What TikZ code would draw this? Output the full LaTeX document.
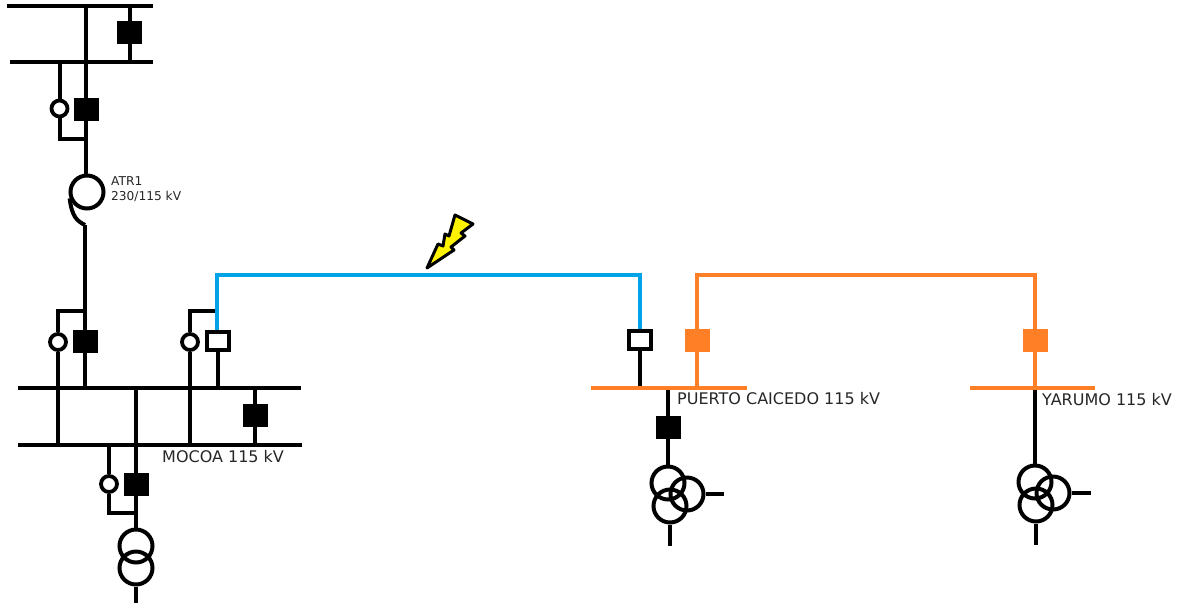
\documentclass[tikz,border=0pt]{standalone}
\usepackage{fontspec}
\setmainfont{DejaVu Sans}
\definecolor{linea}{HTML}{00A2E8}
\definecolor{naranja}{HTML}{FF7F27}
\definecolor{rayo}{HTML}{FFF200}
\tikzset{
  wire/.style={line width=4pt},
  brk/.style={rectangle,fill=black,minimum width=25pt,minimum height=23pt,inner sep=0pt,outer sep=0pt},
  brkopen/.style={rectangle,draw=black,fill=white,line width=3.6pt,minimum width=22pt,minimum height=18pt,inner sep=0pt},
  brkorange/.style={rectangle,fill=naranja,minimum width=25pt,minimum height=23pt,inner sep=0pt,outer sep=0pt},
  ct/.style={circle,draw=black,fill=white,line width=3.8pt,minimum size=16pt,inner sep=0pt},
  tr/.style={circle,draw=black,line width=4pt,minimum size=33pt,inner sep=0pt},
  lbl/.style={inner sep=0pt,anchor=west,text=black!85,font=\fontsize{16}{17}\selectfont}
}
\begin{document}
\begin{tikzpicture}[x=1pt,y=-1pt]
\useasboundingbox (0,0) rectangle (1183,606);
% barras 230 kV
\coordinate (b230aw) at (7,5.5);
\coordinate (b230ae) at (153,5.5);
\coordinate (b230bw) at (10,62);
\coordinate (b230be) at (153,62);
\draw[wire] (b230aw)--(b230ae);
\draw[wire] (b230bw)--(b230be);
\node[brk] (acople230) at (129.5,32.5) {};
\draw[wire] (acople230.north)--(acople230.north |- b230aw);
\draw[wire] (acople230.south)--(acople230.south |- b230bw);
% bahia ATR1
\node[brk] (brkatr) at (86,109) {};
\node[ct] (ctatr) at (59.5,108.5) {};
\node[tr] (atr) at (87,192) {};
\coordinate (nudoatr) at (86,139);
\coordinate (colaatr) at (85,225);
\draw[wire] (brkatr.north)--(brkatr.north |- b230aw);
\draw[wire] (ctatr.north)--(ctatr.north |- b230bw);
\draw[wire,line join=miter] (ctatr.south)--(ctatr.south |- nudoatr)--(nudoatr);
\draw[wire] (brkatr.south)--(brkatr.south |- atr.north);
\draw[wire] (atr.200) .. controls (72,217) and (77,221) .. (colaatr);
\node[lbl,font=\fontsize{12.2}{13}\selectfont,align=left] (atrtxt) at (111,189) {ATR1\\[2pt]230/115 kV};
% barras Mocoa
\coordinate (b115aw) at (18,388);
\coordinate (b115ae) at (301,388);
\coordinate (b115bw) at (18,445);
\coordinate (b115be) at (302,445);
\draw[wire] (b115aw)--(b115ae);
\draw[wire] (b115bw)--(b115be);
\node[brk] (brkmocoa) at (85,341) {};
\node[ct] (ctmocoa) at (58,342) {};
\coordinate (nudomocoa) at (85,311);
\draw[wire] (colaatr)--(brkmocoa.north);
\draw[wire] (brkmocoa.south)--(brkmocoa.south |- b115aw);
\draw[wire,line join=miter] (ctmocoa.north)--(ctmocoa.north |- nudomocoa)--(nudomocoa);
\draw[wire] (ctmocoa.south)--(ctmocoa.south |- b115bw);
\coordinate (enlace) at (136,388);
\draw[wire] (enlace)--(enlace |- b115bw);
\node[brk] (acople115) at (255,415) {};
\draw[wire] (acople115.north)--(acople115.north |- b115aw);
\draw[wire] (acople115.south)--(acople115.south |- b115bw);
\node[brkopen] (brklinea) at (218,341) {};
\node[ct] (ctlinea) at (190,342) {};
\coordinate (nudolinea) at (217,311);
\draw[wire,line join=miter] (ctlinea.north)--(ctlinea.north |- nudolinea)--(nudolinea);
\draw[wire] (ctlinea.south)--(ctlinea.south |- b115bw);
\draw[wire] (brklinea.south)--(brklinea.south |- b115aw);
\node[lbl] (mocoatxt) at (162,457) {MOCOA 115 kV};
% bahia trafo Mocoa
\node[brk] (brktrafo) at (136,484) {};
\node[ct] (cttrafo) at (109,484) {};
\node[tr] (traa) at (136,546) {};
\node[tr] (trab) at (136,568) {};
\coordinate (nudotrafo) at (136,513);
\coordinate (salidatrafo) at (136,603);
\draw[wire] (brktrafo.north)--(brktrafo.north |- b115bw);
\draw[wire] (brktrafo.south)--(traa.north);
\draw[wire] (cttrafo.north)--(cttrafo.north |- b115bw);
\draw[wire,line join=miter] (cttrafo.south)--(cttrafo.south |- nudotrafo)--(nudotrafo);
\draw[wire] (trab.south)--(salidatrafo);
% Puerto Caicedo
\coordinate (bpcw) at (591,388);
\coordinate (bpce) at (747,388);
\node[brkopen] (brkpc) at (640,340) {};
\node[brkorange] (brkpcn) at (697,340) {};
\node[brk] (brkpct) at (668,427) {};
\draw[wire] (brkpc.south)--(brkpc.south |- bpcw);
\draw[wire,naranja] (brkpcn.south)--(brkpcn.south |- bpcw);
\draw[wire] (brkpct.north)--(brkpct.north |- bpcw);
\draw[wire,naranja] (bpcw)--(bpce);
\node[tr] (pca) at (668,483) {};
\node[tr] (pcb) at (670,506) {};
\node[tr] (pcc) at (687,494) {};
\coordinate (pcstub) at (724,494);
\coordinate (pcsal) at (670,546);
\draw[wire] (brkpct.south)--(pca.north);
\draw[wire] (pcc.east)--(pcstub);
\draw[wire] (pcb.south)--(pcsal);
\node[lbl] (pctxt) at (677,399) {PUERTO CAICEDO 115 kV};
% Yarumo
\coordinate (byaw) at (970,388);
\coordinate (byae) at (1095,388);
\node[brkorange] (brkya) at (1035,340) {};
\draw[wire,naranja] (brkya.south)--(brkya.south |- byaw);
\node[tr] (yaa) at (1035,482) {};
\node[tr] (yab) at (1036,505) {};
\node[tr] (yac) at (1053,493) {};
\coordinate (yastub) at (1091,493);
\coordinate (yasal) at (1036,545);
\draw[wire] (yaa.north)--(yaa.north |- byaw);
\draw[wire,naranja] (byaw)--(byae);
\draw[wire] (yac.east)--(yastub);
\draw[wire] (yab.south)--(yasal);
\node[lbl] (yatxt) at (1042,400) {YARUMO 115 kV};
% lineas
\coordinate (azula) at (217,274.5);
\coordinate (azulb) at (640,274.5);
\draw[wire,linea,line join=miter] (brklinea.north -| azula)--(azula)--(azulb)--(brkpc.north);
\coordinate (naranjaa) at (697,275);
\coordinate (naranjab) at (1035,275);
\draw[wire,naranja,line join=miter] (brkpcn.north)--(naranjaa)--(naranjab)--(brkya.north);
% rayo
\draw[fill=rayo,draw=black,line width=3pt,line join=round] (455,215)--(473,224)--(461,233)--(465,236)--(451,247)--(454,250)--(427,268)--(438,244)--(443,246)--(445,234)--(449,236)--cycle;
\end{tikzpicture}
\end{document}
